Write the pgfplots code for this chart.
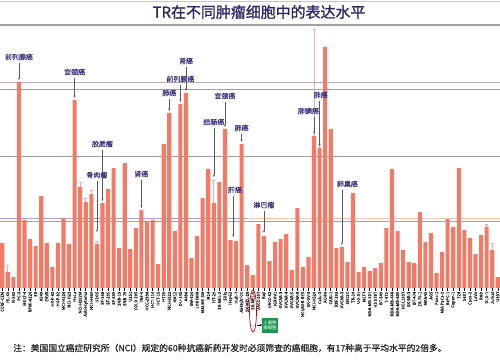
\documentclass[border=0pt]{standalone}
\usepackage{fontspec}
\setmainfont{Noto Sans CJK SC}
\newfontfamily\cjkb[FakeBold=1.2]{Noto Sans CJK SC}
\newfontfamily\cjkm[FakeBold=0.6]{Noto Sans CJK SC}
\usepackage{pgfplots}
\pgfplotsset{compat=1.18}
\usetikzlibrary{arrows.meta}
\definecolor{barc}{RGB}{244,122,104}
\definecolor{annc}{RGB}{60,52,130}
\definecolor{titc}{RGB}{45,40,100}
\definecolor{errc}{RGB}{240,168,168}
\definecolor{arrc}{RGB}{90,90,90}
\definecolor{lgray}{RGB}{160,160,160}
\definecolor{lpink}{RGB}{205,165,190}
\definecolor{lpur}{RGB}{170,160,215}
\definecolor{lpeach}{RGB}{245,200,170}
\definecolor{gbox}{RGB}{25,150,80}
\begin{document}
\begin{tikzpicture}[x=1bp,y=1bp]
\path[use as bounding box] (0,0) rectangle (500,359);
\fill[white] (0,0) rectangle (500,359);
\draw[lgray!60, line width=0.8bp] (0,358) -- (500,358);
\node[font=\cjkb\fontsize{15}{15}\selectfont, text=titc] at (259,347) {TR在不同肿瘤细胞中的表达水平};
\draw[lgray, line width=1.3bp] (0,334) -- (500,334);
\begin{axis}[
  at={(0,71)}, anchor=south west,
  scale only axis, width=500bp, height=263bp,
  xmin=0.6, xmax=90.4, ymin=0, ymax=263,
  clip=false,
  axis y line=none, axis x line*=bottom,
  x axis line style={draw=none},
  xtick={1,...,90},
  tick align=outside, major tick length=2.5bp,
  tick style={black, line width=0.5bp},
  xticklabel style={rotate=90, anchor=east, font=\cjkm\fontsize{4.2}{4.5}\selectfont, text=black!85, inner sep=1pt},
  xticklabels={CCRF-CEM,HL-60,K-562,PC-3,MOLT-4,RPMI-8226,SR,A549,EKVX,HOP-62,HOP-92,NCI-H226,NCI-H23,HeLa,NCI-H322M,Astrocytoma,NCI-H460,U2OS,SF-268,SF-295,SF-539,SNB-19,SNB-75,U251,COLO 205,786-0,HCC-2998,HCT-116,HCT-15,HT29,NCI-H522,KM12,DU-145,A498,SW-620,LOX IMVI,MALME-3M,M14,HT-29,SK-MEL-2,SiHa,HepG2,Huh-7,A549/ATCC,SK-MEL-28,SK-MEL-5,UACC-257,Raji,UACC-62,IGROV1,OVCAR-3,OVCAR-4,OVCAR-5,OVCAR-8,NCI/ADR-RES,SK-OV-3,NCI-H520,Calu-3,ACHN,CAKI-1,RXF 393,OVCAR-3,SN12C,TK-10,UO-31,MCF7,MDA-MB-231,HS 578T,BT-549,T-47D,MDA-MB-468,MDA-MB-435,HCC1937,SK-BR-3,BT-474,ZR-75-1,MKN45,AGS,Panc-1,MIA PaCa-2,AsPC-1,Capan-1,T24,5637,Caco-2,LoVo,RKO,DLD-1,Jurkat,U937},
]
\addplot[draw=lpink, line width=0.9bp] coordinates {(0.6,206) (90.4,206)};
\addplot[draw=lgray, line width=1bp] coordinates {(0.6,198) (90.4,198)};
\addplot[draw=lgray, line width=1bp] coordinates {(0.6,131) (90.4,131)};
\addplot[draw=lpur, line width=1bp] coordinates {(0.6,69.5) (45,69.5)};
\addplot[draw=lpeach, line width=1bp] coordinates {(45,69.5) (90.4,69.5)};
\addplot[draw=lgray, line width=0.8bp] coordinates {(0.6,66.5) (90.4,66.5)};
\addplot[ybar, bar width=4.1bp, bar shift=0pt, fill=barc, draw=none] coordinates {
(1,45) (2,16) (3,11) (4,206) (5,68) (6,49) (7,42) (8,92) (9,45) (10,21)
(11,45) (12,70) (13,44) (14,188) (15,101) (16,86) (17,94) (18,44) (19,85) (20,99)
(21,120) (22,40) (23,125) (24,39) (25,60) (26,78) (27,66) (28,68) (29,24) (30,144)
(31,175) (32,57) (33,184) (34,195) (35,30) (36,52) (37,90) (38,119) (39,85) (40,106)
(41,159) (42,48) (43,47) (44,144) (45,23) (46,13) (47,64) (48,52) (49,27) (50,46)
(51,49) (52,54) (53,18) (54,80) (55,21) (56,31) (57,152) (58,140) (59,241) (60,159)
(61,40) (62,41) (63,26) (64,95) (65,16) (66,21) (67,17) (68,20) (69,25) (70,60)
(71,119) (72,57) (73,38) (74,26) (75,25) (76,76) (77,46) (78,55) (79,15) (80,36)
(81,69) (82,61) (83,120) (84,58) (85,50) (86,34) (87,53) (88,61) (89,38) (90,11)
};
\addplot[draw=none, mark=none, error bars/.cd, y dir=plus, y explicit,
  error bar style={errc, line width=0.7bp}, error mark options={errc, mark size=1.5bp, rotate=90, line width=0.7bp}]
  coordinates {
(2,16) +- (0,7) (15,101) +- (0,5) (16,86) +- (0,4) (17,94) +- (0,4) (18,44) +- (0,3)
(39,85) +- (0,23) (57,152) +- (0,107) (58,140) +- (0,4) (88,61) +- (0,3) (89,38) +- (0,7)
};
% annotations
\newcommand{\ann}[5]{%
  \node[font=\cjkm\fontsize{7}{7}\selectfont, text=annc, inner sep=0pt] at (axis cs:#1,#3) {#5};
  \draw[arrc, line width=0.5bp, -{Stealth[length=2.5bp,width=2bp]}] (axis cs:#2,#3-6) -- (axis cs:#2,#4);}
\ann{4}{4}{231}{208}{前列腺癌}
\ann{14}{14}{216}{190}{宫颈癌}
\ann{19}{19}{144}{87}{胶质瘤}
\ann{18}{18}{113}{56}{骨肉瘤}
\ann{26}{26}{114}{80}{肾癌}
\ann{31}{31}{195}{177}{肺癌}
\ann{33}{33}{209}{186}{前列腺癌}
\ann{34}{34}{227}{197}{肾癌}
\ann{41}{41}{192}{161}{宫颈癌}
\ann{39}{39}{166}{111}{结肠癌}
\ann{42.8}{42.5}{98}{51}{肝癌}
\ann{44}{44}{160}{146}{肺癌}
\ann{48}{48}{83}{55}{淋巴瘤}
\ann{56}{57}{177}{154}{肺鳞癌}
\ann{58.2}{58}{193}{142}{肺癌}
\ann{63}{62}{104}{43}{卵巢癌}
\end{axis}
\draw[red!80!black, line width=0.7bp] (253,48) ellipse (3.5 and 21);
\draw[black, line width=0.5bp, -{Stealth[length=2bp,width=2bp]}] (256.5,34) -- (262,34);
\fill[gbox] (262,26) rectangle (278,41);
\node[font=\fontsize{4.5}{5}\selectfont, text=white, align=center, inner sep=0pt] at (270,33.5) {人脑肿\\瘤细胞};
\node[anchor=west, font=\cjkm\fontsize{8.8}{9}\selectfont, text=black!85, inner sep=0pt] at (13,11) {注：美国国立癌症研究所（NCI）规定的60种抗癌新药开发时必须筛查的癌细胞，有17种高于平均水平的2倍多。};
\end{tikzpicture}
\end{document}
